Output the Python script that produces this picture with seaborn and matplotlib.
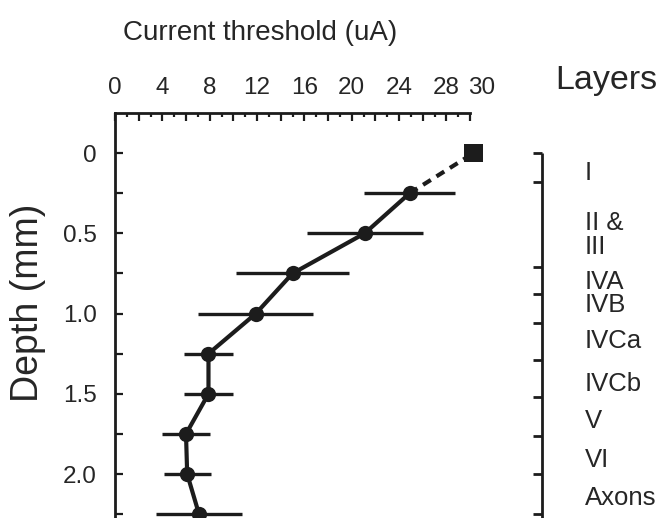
import matplotlib
matplotlib.use("Agg")
import matplotlib.pyplot as plt
import matplotlib.transforms as mtransforms
import seaborn as sns
import pandas as pd

# ---- data ----
depth = [0.25, 0.5, 0.75, 1.0, 1.25, 1.5, 1.75, 2.0, 2.25]
threshold = [24.9, 21.1, 15.0, 11.9, 7.9, 7.9, 6.0, 6.1, 7.1]
threshold_err = [3.85, 4.9, 4.8, 4.85, 2.05, 2.05, 2.0, 2.0, 3.6]
surface_depth = [0.0]
surface_threshold = [30.3]

x_ticks = list(range(0, 31, 2))
x_ticklabels = ["0", "", "4", "", "8", "", "12", "", "16", "", "20", "", "24", "", "28", "30"]
y_ticks = [0, 0.25, 0.5, 0.75, 1.0, 1.25, 1.5, 1.75, 2.0, 2.25]
y_ticklabels = ["0", "", "0.5", "", "1.0", "", "1.5", "", "2.0", ""]

layer_names = ["I", "II &\nIII", "IVA", "IVB", "IVCa", "IVCb", "V", "VI", "Axons"]
layer_label_depth = [0.125, 0.51, 0.805, 0.945, 1.17, 1.44, 1.67, 1.91, 2.15]
layer_boundaries = [0.0, 0.18, 0.71, 0.875, 1.06, 1.29, 1.52, 1.76, 2.0, 2.25]

df = pd.DataFrame({"threshold": threshold, "depth": depth})
df_dash = pd.DataFrame({"threshold": [threshold[0], surface_threshold[0]],
                        "depth": [depth[0], surface_depth[0]]})
df_surf = pd.DataFrame({"threshold": surface_threshold, "depth": surface_depth})

sns.set_theme(style="white")
plt.rcParams["font.family"] = ["Liberation Sans", "DejaVu Sans"]
ink = "#1c1c1c"
txt = "#262626"

W, H = 669, 518
fig = plt.figure(figsize=(W / 100, H / 100), dpi=100)
fig.patch.set_facecolor("white")
ax = fig.add_axes([115 / W, 0, 355 / W, 405 / H])

ax.errorbar(threshold, depth, xerr=threshold_err, fmt="none", ecolor=ink,
            elinewidth=2.4, capsize=0, zorder=2, clip_on=False)
sns.lineplot(data=df_dash, x="threshold", y="depth", sort=False, estimator=None,
             ax=ax, color=ink, linewidth=3, linestyle=(0, (2.2, 1.6)), zorder=3)
sns.lineplot(data=df, x="threshold", y="depth", sort=False, estimator=None,
             ax=ax, color=ink, linewidth=3, marker="o", markersize=11,
             markeredgewidth=0, markerfacecolor=ink, zorder=4)
sns.scatterplot(data=df_surf, x="threshold", y="depth", ax=ax, marker="s",
                s=170, color=ink, edgecolor="none", zorder=5)
for coll in ax.collections:
    coll.set_clip_on(False)
for ln in ax.lines:
    ln.set_clip_on(False)

ax.set_xlim(0, 30)
ax.set_ylim(2.274, -0.25)
ax.set_xlabel("")
ax.set_ylabel("")

for s in ["right", "bottom"]:
    ax.spines[s].set_visible(False)
for s in ["left", "top"]:
    ax.spines[s].set_color(ink)
    ax.spines[s].set_linewidth(2.0)

ax.xaxis.tick_top()
ax.set_xticks(x_ticks)
ax.set_xticklabels(x_ticklabels)
ax.set_xticks(list(range(0, 31)), minor=True)
ax.tick_params(axis="x", which="major", direction="in", length=6, width=1.6,
               color=ink, pad=10, labelsize=17.5, labelcolor=txt,
               top=True, bottom=False, labeltop=True, labelbottom=False)
ax.tick_params(axis="x", which="minor", direction="in", length=3, width=1.6,
               color=ink, top=True, bottom=False)
ax.get_xticklabels()[-1].set_horizontalalignment("left")
ax.get_xticklabels()[-1].set_transform(
    ax.get_xticklabels()[-1].get_transform()
    + mtransforms.ScaledTranslation(-2 / 100, 0, fig.dpi_scale_trans))

ax.set_yticks(y_ticks)
ax.set_yticklabels(y_ticklabels)
ax.tick_params(axis="y", which="major", direction="in", length=6, width=1.6,
               color=ink, pad=13, labelsize=17.5, labelcolor=txt,
               left=True, right=False)

# titles
fig.text(260 / W, 1 - 33 / H, "Current threshold (uA)", ha="center", va="center",
         fontsize=20, color=txt)
fig.text(606 / W, 1 - 80 / H, "Layers", ha="center", va="center",
         fontsize=24.5, color=txt)
fig.text(28 / W, 1 - 303 / H, "Depth (mm)", ha="center", va="center",
         rotation=90, fontsize=27, color=txt)

# layer bracket on the right
tr = mtransforms.blended_transform_factory(ax.transAxes, ax.transData)
bx = (542 - 115) / 355
tx = (533 - 115) / 355
ax.plot([bx, bx], [layer_boundaries[0], layer_boundaries[-1] + 0.03],
        transform=tr, color=ink, lw=2.0, clip_on=False, solid_capstyle="butt")
for b in layer_boundaries:
    ax.plot([tx, bx], [b, b], transform=tr, color=ink, lw=2.0, clip_on=False,
            solid_capstyle="butt")
lx = (585 - 115) / 355
for name, d in zip(layer_names, layer_label_depth):
    ax.text(lx, d, name, transform=tr, ha="left", va="center", fontsize=18.5,
            color=txt, linespacing=1.0, clip_on=False)

fig.savefig("out.png", dpi=100, facecolor="white")
